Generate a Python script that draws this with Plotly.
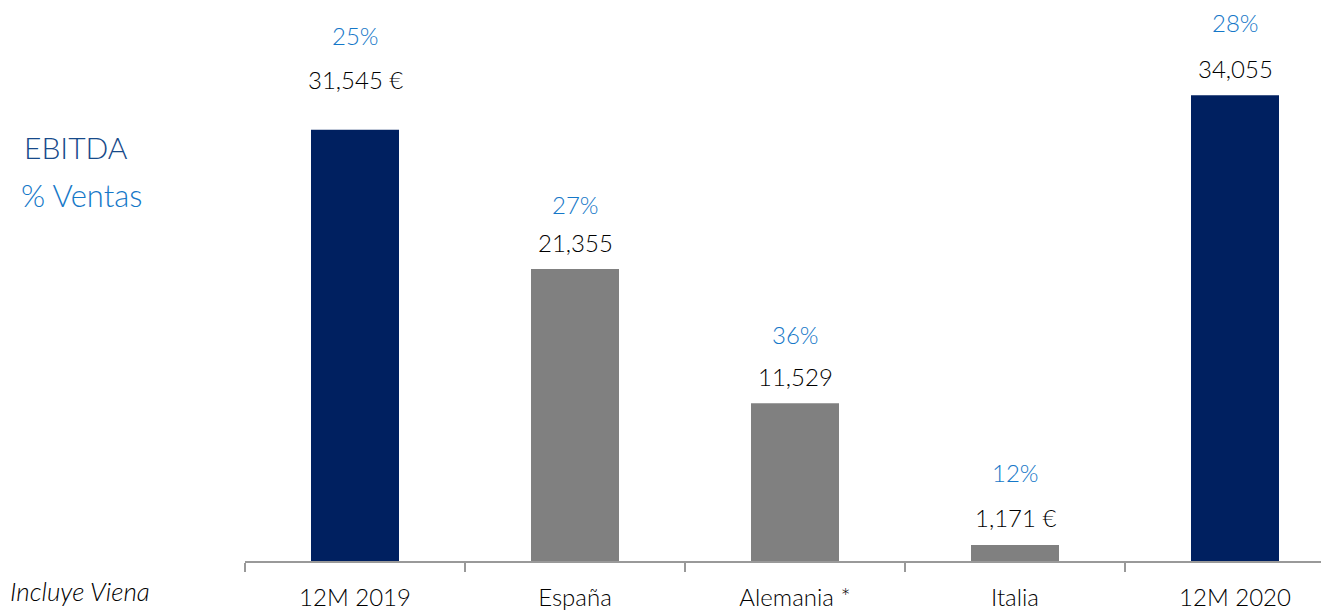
import plotly.graph_objects as go

categories = ["12M 2019", "España", "Alemania *", "Italia", "12M 2020"]
ebitda = [31545, 21355, 11529, 1171, 34055]
value_labels = ["31,545 €", "21,355", "11,529", "1,171 €", "34,055"]
pct_labels = ["25%", "27%", "36%", "12%", "28%"]
bar_colors = ["#002060", "#808080", "#808080", "#808080", "#002060"]

# pixel offsets of labels above bar tops (style)
val_shift = [50, 27, 27, 27, 27]
pct_shift = [94, 65, 69, 72, 73]

FONT = "Lato"
WT = 300
TXT = "#000000"
BLUE = "#1578C8"

# page offset (body margin 8px)
FIG_W, FIG_H = 1321, 603
ML, MB = 237, 50
PW = FIG_W - ML          # plot width in px
PH = FIG_H - MB          # plot height in px
PX_PER_UNIT = 0.013673
CAT_PX = 220.0

fig = go.Figure()
fig.add_trace(go.Bar(x=categories, y=ebitda, marker=dict(color=bar_colors, line=dict(width=0)),
                     hoverinfo="skip"))

for c, v, vl, pl, vs, ps in zip(categories, ebitda, value_labels, pct_labels, val_shift, pct_shift):
    fig.add_annotation(x=c, y=v, text=vl, showarrow=False, yshift=vs, yanchor="middle",
                       font=dict(family=FONT, size=24, color=TXT, weight=WT))
    fig.add_annotation(x=c, y=v, text=pl, showarrow=False, yshift=ps, yanchor="middle",
                       font=dict(family=FONT, size=24, color=BLUE, weight=WT))

def pxx(xp):
    return (xp - 245) / PW

def pxy(yp):
    return (561 - yp) / PH

fig.add_annotation(xref="paper", yref="paper", x=pxx(76), y=pxy(147), text="EBITDA",
                   showarrow=False, xanchor="center", yanchor="middle",
                   font=dict(family=FONT, size=30, color="#174A8A", weight=WT))
fig.add_annotation(xref="paper", yref="paper", x=pxx(81), y=pxy(195), text="% Ventas",
                   showarrow=False, xanchor="center", yanchor="middle",
                   font=dict(family=FONT, size=31, color=BLUE, weight=WT))
fig.add_annotation(xref="paper", yref="paper", x=pxx(8), y=pxy(591), text="<i>Incluye Viena</i>",
                   showarrow=False, xanchor="left", yanchor="middle",
                   font=dict(family=FONT, size=26, color=TXT, weight=WT))

fig.update_layout(
    width=FIG_W, height=FIG_H,
    margin=dict(l=ML, r=0, t=0, b=MB, pad=0),
    plot_bgcolor="white", paper_bgcolor="white",
    bargap=0.6, showlegend=False,
    font=dict(family=FONT, size=24, color=TXT),
)
fig.update_xaxes(range=[-0.5, -0.5 + PW / CAT_PX], showline=True, linecolor="#999999", linewidth=2,
                 ticks="outside", tickson="boundaries", ticklen=9, tickcolor="#999999", tickwidth=1.5,
                 ticklabelstandoff=14,
                 tickfont=dict(family=FONT, size=24, color=TXT, weight=WT),
                 showgrid=False, zeroline=False, fixedrange=True)
fig.update_yaxes(range=[0, PH / PX_PER_UNIT], visible=False, showgrid=False, zeroline=False,
                 fixedrange=True)

fig.write_html("out.html", config={"displayModeBar": False})
